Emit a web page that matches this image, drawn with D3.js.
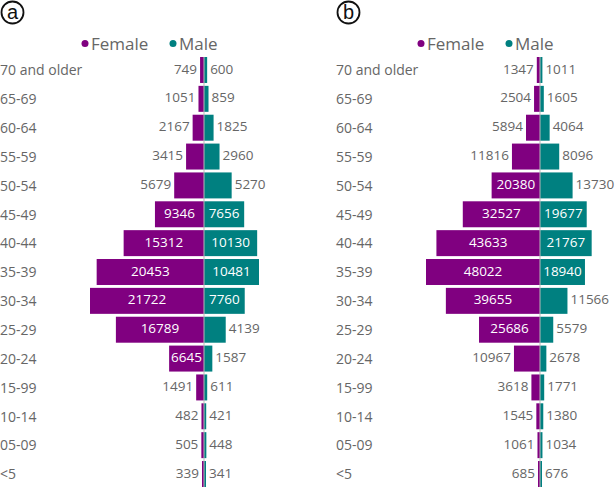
<!DOCTYPE html>
<html>
<head>
<meta charset="utf-8">
<script src="https://d3js.org/d3.v7.min.js"></script>
<style>
  body { margin: 0; background: #fff; font-family: "Open Sans", sans-serif; }
</style>
</head>
<body>
<div id="chart"></div>
<script>
// age groups (top to bottom)
var ageGroups = ["70 and older", "65-69", "60-64", "55-59", "50-54", "45-49", "40-44",
                 "35-39", "30-34", "25-29", "20-24", "15-99", "10-14", "05-09", "<5"]

// panel a
var femaleA = [749, 1051, 2167, 3415, 5679, 9346, 15312, 20453, 21722, 16789, 6645, 1491, 482, 505, 339]
var maleA   = [600, 859, 1825, 2960, 5270, 7656, 10130, 10481, 7760, 4139, 1587, 611, 421, 448, 341]

// panel b
var femaleB = [1347, 2504, 5894, 11816, 20380, 32527, 43633, 48022, 39655, 25686, 10967, 3618, 1545, 1061, 685]
var maleB   = [1011, 1605, 4064, 8096, 13730, 19677, 21767, 18940, 11566, 5579, 2678, 1771, 1380, 1034, 676]

var panels = [
  { tag: "a", female: femaleA, male: maleA, left: 0 },
  { tag: "b", female: femaleB, male: maleB, left: 336 }
]

var purple = "#800080"
var teal = "#008080"
var grey = "#666666"

var svg = d3.select("#chart").append("svg")
  .attr("width", 616)
  .attr("height", 487)

var y = d3.scaleBand()
  .domain(ageGroups)
  .range([57, 487])
  .paddingInner(0.1)

panels.forEach(function(p) {
  var g = svg.append("g").attr("transform", "translate(" + p.left + ",0)")
  var axisX = 204
  var maxVal = d3.max(p.female.concat(p.male))
  var x = d3.scaleLinear().domain([0, maxVal]).range([0, 114])

  // circled panel letter
  var tg = svg.append("g").attr("transform", "translate(" + (p.left + 12.5) + ",12.5)")
  tg.append("circle").attr("r", 11).attr("fill", "none").attr("stroke", "#111").attr("stroke-width", 1.8)
  tg.append("text")
    .attr("text-anchor", "middle")
    .attr("y", 6.5)
    .attr("font-family", "Liberation Sans, Arial, sans-serif")
    .attr("font-size", 20)
    .attr("fill", "#111")
    .text(p.tag)

  // legend
  var legend = [{ label: "Female", color: purple, dx: -119 }, { label: "Male", color: teal, dx: -31 }]
  legend.forEach(function(l) {
    g.append("circle")
      .attr("cx", axisX + l.dx)
      .attr("cy", 43.5)
      .attr("r", 3.5)
      .attr("fill", l.color)
    g.append("text")
      .attr("x", axisX + l.dx + 6)
      .attr("y", 50)
      .attr("font-size", 17)
      .attr("fill", grey)
      .text(l.label)
  })

  // category labels
  g.selectAll(".cat")
    .data(ageGroups)
    .enter()
    .append("text")
    .attr("x", 0)
    .attr("y", function(d) { return y(d) + y.bandwidth() / 2 + 1.5 })
    .attr("dominant-baseline", "middle")
    .attr("font-size", 14)
    .attr("fill", grey)
    .text(function(d) { return d })

  var rows = ageGroups.map(function(d, i) { return { age: d, f: p.female[i], m: p.male[i] } })

  // female bars
  g.selectAll(".fbar")
    .data(rows)
    .enter()
    .append("rect")
    .attr("x", function(d) { return axisX - Math.max(x(d.f), 2) })
    .attr("y", function(d) { return y(d.age) })
    .attr("width", function(d) { return Math.max(x(d.f), 2) })
    .attr("height", y.bandwidth())
    .attr("fill", purple)

  // male bars
  g.selectAll(".mbar")
    .data(rows)
    .enter()
    .append("rect")
    .attr("x", axisX)
    .attr("y", function(d) { return y(d.age) })
    .attr("width", function(d) { return Math.max(x(d.m), 2) })
    .attr("height", y.bandwidth())
    .attr("fill", teal)

  // centre line
  g.append("line")
    .attr("x1", axisX).attr("x2", axisX)
    .attr("y1", 57).attr("y2", 487)
    .attr("stroke", "#b8b8b8")
    .attr("stroke-width", 1)

  // value labels: inside if the bar is wide enough, otherwise outside
  function addLabels(key, side) {
    g.selectAll(".lab" + key)
      .data(rows)
      .enter()
      .append("text")
      .attr("font-size", 13.5)
      .attr("dominant-baseline", "middle")
      .attr("y", function(d) { return y(d.age) + y.bandwidth() / 2 })
      .text(function(d) { return d[key] })
      .each(function(d) {
        var t = d3.select(this)
        var w = x(d[key])
        var tw = this.getComputedTextLength()
        if (w >= tw + 3) {
          t.attr("x", axisX + side * w / 2).attr("text-anchor", "middle").attr("fill", "#fff")
        } else {
          t.attr("x", axisX + side * (Math.max(w, 2) + 3))
            .attr("text-anchor", side < 0 ? "end" : "start")
            .attr("fill", grey)
        }
      })
  }
  addLabels("f", -1)
  addLabels("m", 1)
})
</script>
</body>
</html>
